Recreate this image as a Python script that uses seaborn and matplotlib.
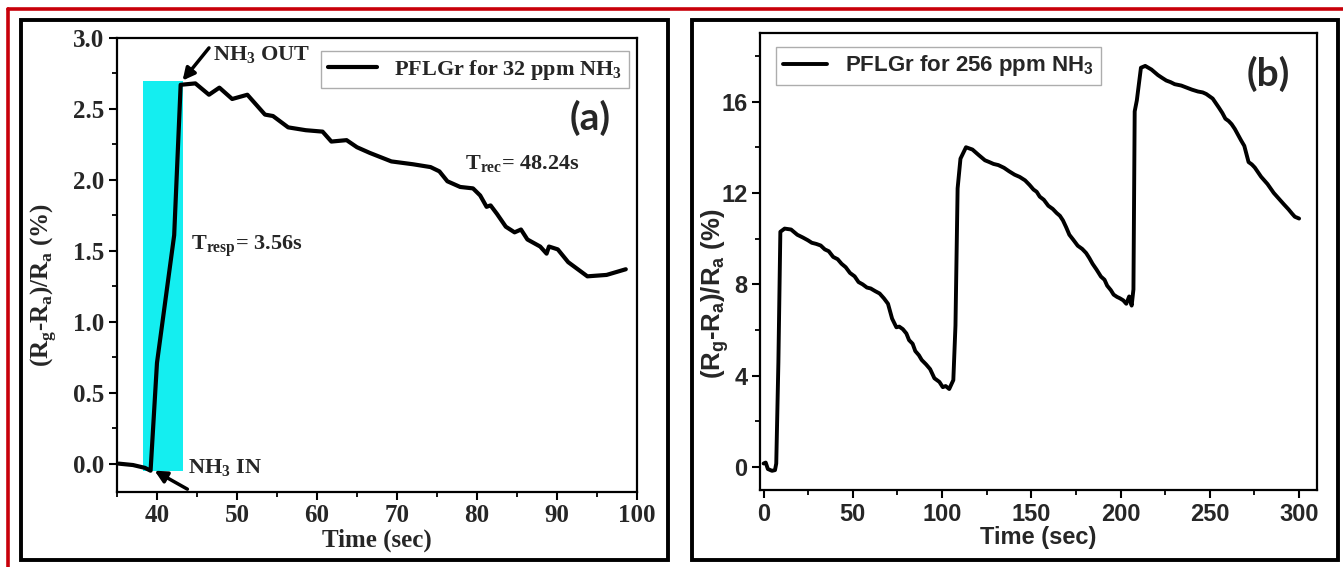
import matplotlib
matplotlib.use("Agg")
import matplotlib.pyplot as plt
import seaborn as sns
from matplotlib.patches import Rectangle
from matplotlib.lines import Line2D
from matplotlib.ticker import MultipleLocator

# ---- panel (a): PFLGr, 32 ppm NH3 ----
time_a = [35.2, 37.0, 38.5, 39.2, 40.0, 42.15, 42.96, 44.8, 46.5, 47.8, 49.4, 51.3,
          53.5, 54.5, 56.4, 58.6, 60.7, 61.8, 63.7, 65.0, 66.6, 69.3, 72.0, 74.2,
          75.3, 76.3, 77.9, 79.5, 80.4, 81.2, 81.7, 82.5, 83.6, 84.7, 85.5, 86.3,
          87.9, 88.7, 89.0, 90.1, 91.4, 93.8, 96.2, 98.6]
resp_a = [0.0, -0.01, -0.03, -0.05, 0.71, 1.61, 2.67, 2.68, 2.60, 2.65, 2.57, 2.60,
          2.46, 2.45, 2.37, 2.35, 2.34, 2.27, 2.28, 2.23, 2.19, 2.13, 2.11, 2.09,
          2.06, 1.99, 1.95, 1.94, 1.89, 1.81, 1.82, 1.76, 1.67, 1.63, 1.65, 1.58,
          1.53, 1.48, 1.53, 1.51, 1.42, 1.32, 1.33, 1.37]
gas_window_a = [38.2, 43.2]   # NH3 in / NH3 out (sec)
band_low_a, band_high_a = -0.05, 2.7
label_a = r"PFLGr for 32 ppm NH$_\mathbf{3}$"

# ---- panel (b): PFLGr, 256 ppm NH3, three cycles ----
time_b = [0.0, 1.2, 2.4, 4.7, 6.4, 7.1, 8.3, 9.4, 11.8, 15.4, 18.9, 22.0, 24.8,
          27.0, 29.5, 32.0, 34.3, 36.5, 39.0, 41.5, 43.7, 46.0, 48.4, 51.0, 53.2,
          55.5, 57.9, 60.0, 62.6, 65.0, 67.4, 69.7, 72.0, 74.4, 76.0, 78.0, 80.0,
          81.5, 83.5, 85.0, 87.0, 88.6, 91.0, 93.3, 95.7, 98.5, 100.4, 102.0, 104.0,
          106.3, 107.5, 108.7, 110.3, 113.4, 117.0, 120.5, 124.0, 126.5, 128.8, 131.5,
          134.7, 137.5, 140.6, 143.5, 146.5, 149.0, 151.2, 153.0, 154.7, 157.0, 159.5,
          162.0, 164.2, 166.0, 167.7, 169.5, 171.3, 173.5, 176.0, 178.5, 180.7, 182.5,
          184.3, 186.5, 189.0, 191.0, 192.5, 194.5, 196.1, 198.0, 199.6, 201.5, 203.2,
          204.8, 206.2, 207.2, 207.9, 209.1, 211.4, 213.8, 217.3, 220.9, 223.0, 225.6,
          228.0, 230.3, 234.0, 237.4, 240.0, 243.3, 246.0, 248.0, 251.6, 255.1, 257.0,
          258.7, 260.5, 262.2, 264.0, 265.8, 267.5, 269.3, 271.7, 273.5, 275.2, 277.0,
          278.7, 280.5, 282.3, 284.0, 285.8, 287.5, 289.4, 291.5, 294.1, 296.0, 297.6,
          300.0]
resp_b = [0.16, 0.2, -0.08, -0.16, -0.13, 0.16, 4.6, 10.3, 10.44, 10.4, 10.17, 10.05, 9.93,
          9.82, 9.77, 9.7, 9.53, 9.45, 9.2, 9.1, 8.9, 8.75, 8.5, 8.35, 8.1,
          8.0, 7.86, 7.82, 7.7, 7.6, 7.39, 7.15, 6.5, 6.12, 6.15, 6.04, 5.85,
          5.56, 5.4, 5.08, 4.9, 4.69, 4.5, 4.29, 3.89, 3.73, 3.5, 3.55, 3.42,
          3.81, 6.2, 12.2, 13.5, 14.0, 13.9, 13.66, 13.43, 13.35, 13.27, 13.22,
          13.1, 12.95, 12.8, 12.7, 12.55, 12.35, 12.15, 12.05, 11.84, 11.7, 11.44,
          11.3, 11.12, 11.0, 10.8, 10.5, 10.17, 9.95, 9.69, 9.55, 9.37, 9.15,
          8.9, 8.65, 8.34, 8.2, 7.94, 7.75, 7.55, 7.45, 7.39, 7.3, 7.15,
          7.47, 7.07, 7.78, 15.57, 16.05, 17.48, 17.56, 17.4, 17.16, 17.05, 16.92,
          16.85, 16.76, 16.7, 16.6, 16.52, 16.44, 16.4, 16.33, 16.13, 15.73, 15.5,
          15.25, 15.15, 15.01, 14.8, 14.54, 14.3, 14.06, 13.35, 13.25, 13.11, 12.9,
          12.71, 12.55, 12.39, 12.2, 12.0, 11.85, 11.68, 11.5, 11.28, 11.1, 10.96,
          10.88]
label_b = r"PFLGr for 256 ppm NH$_\mathsf{3}$"

sns.set_theme(style="ticks")
plt.rcParams["mathtext.fontset"] = "custom"
plt.rcParams["mathtext.rm"] = "Liberation Serif:bold"
plt.rcParams["mathtext.bf"] = "Liberation Serif:bold"
plt.rcParams["mathtext.sf"] = "Liberation Sans:bold"
plt.rcParams["axes.linewidth"] = 1.6

serif = dict(family="Liberation Serif", weight="bold")
sans = dict(family="Liberation Sans", weight="bold")

fig = plt.figure(figsize=(13.43, 5.67), dpi=100, facecolor="white")

# outer red border and the two black panel frames
fig.add_artist(Line2D([0.006, 1.0], [0.984, 0.984], transform=fig.transFigure,
                      color="#c8000a", lw=2.6))
fig.add_artist(Line2D([0.006, 0.006], [0.0, 0.984], transform=fig.transFigure,
                      color="#c8000a", lw=2.6))
for x0, x1 in [(0.0156, 0.4974), (0.5153, 0.9963)]:
    fig.add_artist(Rectangle((x0, 0.0123), x1 - x0, 0.9647 - 0.0123,
                             transform=fig.transFigure, fill=False,
                             edgecolor="black", lw=2.8))


def style_ticks(ax, font, size):
    ax.tick_params(which="major", direction="out", length=6, width=1.5,
                   labelsize=size, top=False, right=False, color="black", pad=3)
    ax.tick_params(which="minor", direction="out", length=3.5, width=1.3,
                   top=False, right=False, color="black")
    for lab in ax.get_xticklabels() + ax.get_yticklabels():
        lab.set_fontfamily(font["family"])
        lab.set_fontweight("bold")
        lab.set_fontsize(size)
    for sp in ax.spines.values():
        sp.set_visible(True)
        sp.set_color("black")


# ---------- panel (a) ----------
ax1 = fig.add_axes([0.0871, 0.1323, 0.3872, 0.8007])
ax1.fill_between(gas_window_a, band_low_a, band_high_a, color="#14eef0", lw=0, zorder=1)
sns.lineplot(x=time_a, y=resp_a, ax=ax1, color="black", lw=3, label=label_a,
             estimator=None, zorder=3)
ax1.set_xlim(35, 100)
ax1.set_ylim(-0.2, 3.0)
ax1.set_xticks(range(40, 101, 10))
ax1.xaxis.set_minor_locator(MultipleLocator(5))
ax1.set_yticks([0.0, 0.5, 1.0, 1.5, 2.0, 2.5, 3.0])
ax1.set_yticklabels(["0.0", "0.5", "1.0", "1.5", "2.0", "2.5", "3.0"])
ax1.yaxis.set_minor_locator(MultipleLocator(0.25))
style_ticks(ax1, serif, 18)
ax1.set_xlabel("Time (sec)", fontsize=18, labelpad=1, **serif)
ax1.set_ylabel(r"(R$_\mathrm{g}$-R$_\mathrm{a}$)/R$_\mathrm{a}$ (%)", fontsize=18, **serif)
ax1.yaxis.set_label_coords(-0.112, 0.455)
leg = ax1.legend(loc="upper right", bbox_to_anchor=(0.985, 0.971), borderaxespad=0,
                 fancybox=False, edgecolor="#999999", handlelength=2.2, borderpad=0.3,
                 prop=dict(family="Liberation Serif", weight="bold", size=16))
leg.get_frame().set_linewidth(1.0)

arrow = dict(arrowstyle="-|>", lw=2.5, color="black", mutation_scale=18,
             shrinkA=0, shrinkB=0)
ax1.annotate("", xy=(43.2, 2.70), xytext=(46.5, 2.93), arrowprops=arrow)
ax1.text(47.0, 2.88, r"NH$_\mathrm{3}$ OUT", fontsize=16, va="center", **serif)
ax1.annotate("", xy=(39.7, -0.05), xytext=(43.8, -0.18), arrowprops=arrow)
ax1.text(43.9, -0.03, r"NH$_\mathrm{3}$ IN", fontsize=16, va="center", **serif)
ax1.text(44.3, 1.53, r"T$_\mathrm{resp}$= 3.56s", fontsize=16, va="center", **serif)
ax1.text(78.5, 2.11, r"T$_\mathrm{rec}$= 48.24s", fontsize=16, va="center", **serif)
ax1.text(94.2, 2.44, "(a)", fontsize=28, ha="center", va="center",
         family="Lato", weight="bold")

# ---------- panel (b) ----------
ax2 = fig.add_axes([0.5659, 0.1358, 0.4147, 0.806])
sns.lineplot(x=time_b, y=resp_b, ax=ax2, color="black", lw=2.8, label=label_b,
             estimator=None)
ax2.set_xlim(-2, 310)
ax2.set_ylim(-1, 19)
ax2.set_xticks(range(0, 301, 50))
ax2.xaxis.set_minor_locator(MultipleLocator(25))
ax2.set_yticks([0, 4, 8, 12, 16])
ax2.yaxis.set_minor_locator(MultipleLocator(2))
style_ticks(ax2, sans, 17)
ax2.set_xlabel("Time (sec)", fontsize=17, labelpad=0, **sans)
ax2.set_ylabel(r"(R$_\mathsf{g}$-R$_\mathsf{a}$)/R$_\mathsf{a}$ (%)", fontsize=18.5, **sans)
ax2.yaxis.set_label_coords(-0.052, 0.43)
leg2 = ax2.legend(loc="upper left", bbox_to_anchor=(0.029, 0.97), borderaxespad=0,
                  fancybox=False, edgecolor="#999999", handlelength=2.0, borderpad=0.3,
                  prop=dict(family="Liberation Sans", weight="bold", size=16))
leg2.get_frame().set_linewidth(1.0)
ax2.text(283, 17.2, "(b)", fontsize=28, ha="center", va="center",
         family="Lato", weight="bold")

fig.savefig("out.png", dpi=100, facecolor="white")
